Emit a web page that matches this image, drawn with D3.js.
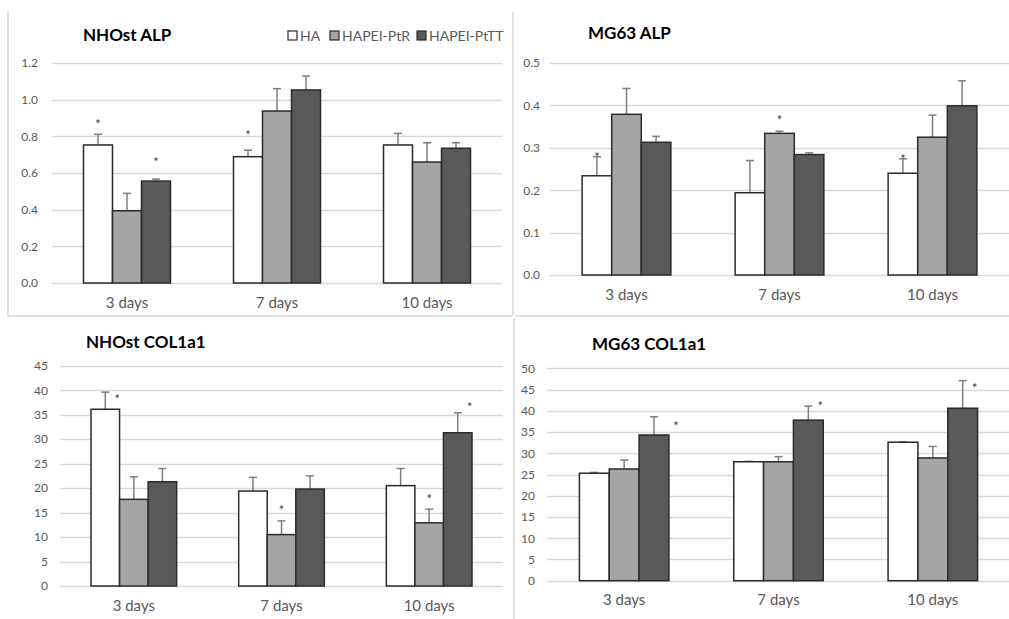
<!DOCTYPE html>
<html>
<head>
<meta charset="utf-8">
<script src="https://cdn.jsdelivr.net/npm/d3@7"></script>
<style>
  html, body { margin: 0; padding: 0; background: #fff; }
  svg { display: block; font-family: Lato, "Open Sans", sans-serif; }
</style>
</head>
<body>
<svg id="chart" width="1009" height="619"></svg>
<script>
// Time points and treatment groups
const groups = ["3 days", "7 days", "10 days"];
const seriesNames = ["HA", "HAPEI-PtR", "HAPEI-PtTT"];

// NHOst ALP (mean, +SD) per series, in group order
const nhostAlpHA = [0.753, 0.689, 0.753];
const nhostAlpPtR = [0.394, 0.938, 0.660];
const nhostAlpPtTT = [0.556, 1.053, 0.735];
const nhostAlpErrHA = [0.058, 0.035, 0.063];
const nhostAlpErrPtR = [0.095, 0.122, 0.105];
const nhostAlpErrPtTT = [0.011, 0.076, 0.030];
const nhostAlpTicks = [0, 0.2, 0.4, 0.6, 0.8, 1.0, 1.2];
// significance marks: [group, series, value, placement]
const nhostAlpStars = [["3 days", "HA", 0.878, "c"], ["3 days", "HAPEI-PtTT", 0.671, "c"], ["7 days", "HA", 0.818, "c"]];

// MG63 ALP
const mg63AlpHA = [0.234, 0.194, 0.240];
const mg63AlpPtR = [0.379, 0.334, 0.325];
const mg63AlpPtTT = [0.313, 0.284, 0.399];
const mg63AlpErrHA = [0.045, 0.076, 0.034];
const mg63AlpErrPtR = [0.061, 0.005, 0.052];
const mg63AlpErrPtTT = [0.014, 0.004, 0.059];
const mg63AlpTicks = [0, 0.1, 0.2, 0.3, 0.4, 0.5];
const mg63AlpStars = [["3 days", "HA", 0.283, "c"], ["7 days", "HAPEI-PtR", 0.370, "c"], ["10 days", "HA", 0.278, "c"]];

// NHOst COL1a1
const nhostColHA = [36.1, 19.4, 20.5];
const nhostColPtR = [17.7, 10.5, 12.9];
const nhostColPtTT = [21.3, 19.8, 31.3];
const nhostColErrHA = [3.5, 2.8, 3.5];
const nhostColErrPtR = [4.6, 2.8, 2.8];
const nhostColErrPtTT = [2.7, 2.7, 4.1];
const nhostColTicks = [0, 5, 10, 15, 20, 25, 30, 35, 40, 45];
const nhostColStars = [["3 days", "HA", 38.6, "r"], ["7 days", "HAPEI-PtR", 15.9, "c"], ["10 days", "HAPEI-PtR", 18.2, "c"], ["10 days", "HAPEI-PtTT", 37.0, "r"]];

// MG63 COL1a1
const mg63ColHA = [25.3, 28.0, 32.6];
const mg63ColPtR = [26.3, 28.0, 28.9];
const mg63ColPtTT = [34.3, 37.8, 40.6];
const mg63ColErrHA = [0.2, 0.1, 0.1];
const mg63ColErrPtR = [2.1, 1.2, 2.7];
const mg63ColErrPtTT = [4.3, 3.3, 6.5];
const mg63ColTicks = [0, 5, 10, 15, 20, 25, 30, 35, 40, 45, 50];
const mg63ColStars = [["3 days", "HAPEI-PtTT", 36.8, "rr"], ["7 days", "HAPEI-PtTT", 41.5, "r"], ["10 days", "HAPEI-PtTT", 45.8, "r"]];

// Styles
const fills = { "HA": "#ffffff", "HAPEI-PtR": "#a5a5a5", "HAPEI-PtTT": "#595959" };
const barStroke = "#2b2b2b";
const errColor = "#7f7f7f";
const gridColor = "#d9d9d9";
const textColor = "#595959";
const starShift = { c: 0, r: 12, rr: 22 };

const svg = d3.select("#chart");

// Panel frame lines
const frame = svg.append("g").attr("stroke", gridColor).attr("stroke-width", 1.5);
[[8, 12, 8, 316], [8, 316, 512, 316], [513, 12, 513, 316], [515, 316, 1009, 316], [514, 318, 514, 619]]
  .forEach(([x1, y1, x2, y2]) => frame.append("line").attr("x1", x1).attr("y1", y1).attr("x2", x2).attr("y2", y2));

function buildRows(ha, ptr, pttt, eha, eptr, epttt) {
  return groups.map((g, i) => ({
    group: g,
    values: [
      { series: "HA", mean: ha[i], err: eha[i] },
      { series: "HAPEI-PtR", mean: ptr[i], err: eptr[i] },
      { series: "HAPEI-PtTT", mean: pttt[i], err: epttt[i] }
    ]
  }));
}

function drawPanel(cfg) {
  const g = svg.append("g");
  const y = d3.scaleLinear().domain([0, cfg.ticks[cfg.ticks.length - 1]]).range([cfg.bottom, cfg.top]);
  const x0 = d3.scaleBand().domain(groups).range([cfg.left, cfg.right]).paddingInner(0.42).paddingOuter(0.21);
  const x1 = d3.scaleBand().domain(seriesNames).range([0, x0.bandwidth()]);

  // gridlines
  g.append("g").selectAll("line").data(cfg.ticks).join("line")
    .attr("x1", cfg.left).attr("x2", cfg.right)
    .attr("y1", d => Math.round(y(d)) + 0.5).attr("y2", d => Math.round(y(d)) + 0.5)
    .attr("stroke", gridColor).attr("stroke-width", 1.3);

  // value axis labels
  const ya = g.append("g").attr("transform", `translate(${cfg.left},0)`)
    .call(d3.axisLeft(y).tickValues(cfg.ticks).tickFormat(d3.format(cfg.fmt)).tickSize(0).tickPadding(cfg.tickPad));
  ya.select(".domain").remove();
  ya.selectAll("text").attr("fill", textColor).style("font-size", "12px").style("font-family", "Lato, sans-serif");

  // category labels
  const xa = g.append("g").attr("transform", `translate(0,${cfg.bottom})`)
    .call(d3.axisBottom(x0).tickSize(0).tickPadding(14));
  xa.select(".domain").remove();
  xa.selectAll("text").attr("fill", textColor).style("font-size", "15px").style("font-family", "Lato, sans-serif");

  const grp = g.append("g").selectAll("g").data(cfg.rows).join("g")
    .attr("transform", d => `translate(${x0(d.group)},0)`);

  // error bars (upper only)
  const eb = grp.selectAll("g.err").data(d => d.values).join("g").attr("class", "err")
    .attr("stroke", errColor).attr("stroke-width", 1.5);
  eb.append("line")
    .attr("x1", d => x1(d.series) + x1.bandwidth() / 2).attr("x2", d => x1(d.series) + x1.bandwidth() / 2)
    .attr("y1", d => y(d.mean)).attr("y2", d => y(d.mean + d.err));
  eb.append("line")
    .attr("x1", d => x1(d.series) + x1.bandwidth() / 2 - 4).attr("x2", d => x1(d.series) + x1.bandwidth() / 2 + 4)
    .attr("y1", d => y(d.mean + d.err)).attr("y2", d => y(d.mean + d.err));

  // bars
  grp.selectAll("rect").data(d => d.values).join("rect")
    .attr("x", d => x1(d.series)).attr("width", x1.bandwidth())
    .attr("y", d => y(d.mean)).attr("height", d => y(0) - y(d.mean))
    .attr("fill", d => fills[d.series]).attr("stroke", barStroke).attr("stroke-width", 1.5);

  // significance asterisks
  g.append("g").selectAll("text").data(cfg.stars).join("text")
    .attr("x", d => x0(d[0]) + x1(d[1]) + x1.bandwidth() / 2 + starShift[d[3]])
    .attr("y", d => y(d[2]) + 7)
    .attr("text-anchor", "middle")
    .attr("fill", "#404040").style("font-size", "13px")
    .text("*");

  // title
  g.append("text").attr("x", cfg.titleX).attr("y", cfg.titleY)
    .attr("fill", "#000").style("font-size", "17px").style("font-weight", "bold")
    .text(cfg.title);
}

drawPanel({
  title: "NHOst ALP", titleX: 83, titleY: 41,
  left: 52, right: 502, top: 63, bottom: 283, tickPad: 14, fmt: ".1f",
  ticks: nhostAlpTicks, stars: nhostAlpStars,
  rows: buildRows(nhostAlpHA, nhostAlpPtR, nhostAlpPtTT, nhostAlpErrHA, nhostAlpErrPtR, nhostAlpErrPtTT)
});
drawPanel({
  title: "MG63 ALP", titleX: 588, titleY: 39,
  left: 550, right: 1009, top: 63, bottom: 275, tickPad: 10, fmt: ".1f",
  ticks: mg63AlpTicks, stars: mg63AlpStars,
  rows: buildRows(mg63AlpHA, mg63AlpPtR, mg63AlpPtTT, mg63AlpErrHA, mg63AlpErrPtR, mg63AlpErrPtTT)
});
drawPanel({
  title: "NHOst COL1a1", titleX: 86, titleY: 348,
  left: 60, right: 503, top: 365.7, bottom: 586, tickPad: 12, fmt: "d",
  ticks: nhostColTicks, stars: nhostColStars,
  rows: buildRows(nhostColHA, nhostColPtR, nhostColPtTT, nhostColErrHA, nhostColErrPtR, nhostColErrPtTT)
});
drawPanel({
  title: "MG63 COL1a1", titleX: 592, titleY: 350,
  left: 547, right: 1010, top: 368.3, bottom: 580.7, tickPad: 12, fmt: "d",
  ticks: mg63ColTicks, stars: mg63ColStars,
  rows: buildRows(mg63ColHA, mg63ColPtR, mg63ColPtTT, mg63ColErrHA, mg63ColErrPtR, mg63ColErrPtTT)
});

// Legend (shared, top-left panel)
const legendX = [288, 330, 417];
const legend = svg.append("g").selectAll("g").data(seriesNames).join("g")
  .attr("transform", (d, i) => `translate(${legendX[i]},31)`);
legend.append("rect").attr("width", 9).attr("height", 9)
  .attr("fill", d => fills[d]).attr("stroke", barStroke).attr("stroke-width", 1.2);
legend.append("text").attr("x", 12).attr("y", 10)
  .attr("fill", textColor).style("font-size", "14px").text(d => d);
</script>
</body>
</html>
